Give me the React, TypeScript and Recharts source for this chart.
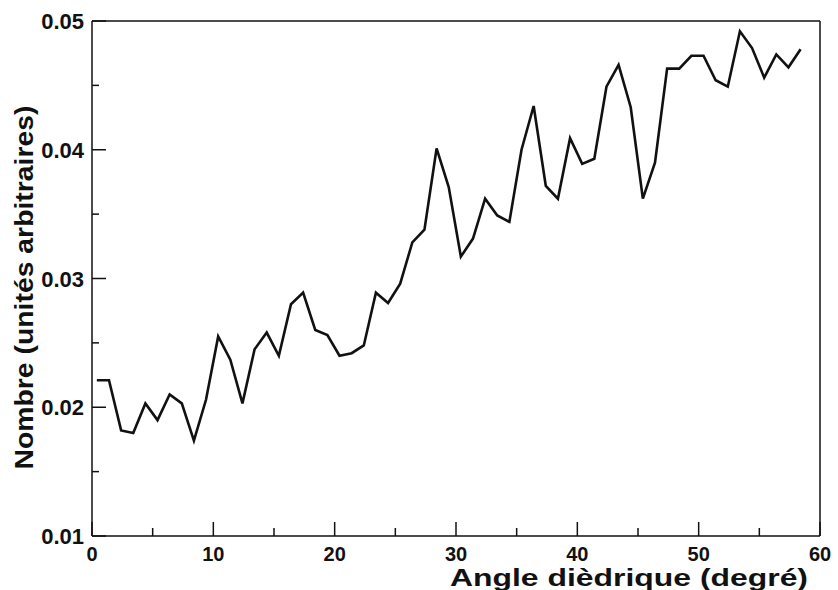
import { LineChart, Line, XAxis, YAxis, Label } from 'recharts';

const angles = [
  0.4, 1.4, 2.4, 3.4, 4.4, 5.4, 6.4, 7.4, 8.4, 9.4,
  10.4, 11.4, 12.4, 13.4, 14.4, 15.4, 16.4, 17.4, 18.4, 19.4,
  20.4, 21.4, 22.4, 23.4, 24.4, 25.4, 26.4, 27.4, 28.4, 29.4,
  30.4, 31.4, 32.4, 33.4, 34.4, 35.4, 36.4, 37.4, 38.4, 39.4,
  40.4, 41.4, 42.4, 43.4, 44.4, 45.4, 46.4, 47.4, 48.4, 49.4,
  50.4, 51.4, 52.4, 53.4, 54.4, 55.4, 56.4, 57.4, 58.4,
];

const nombre = [
  0.0221, 0.0221, 0.0182, 0.018, 0.0203, 0.019, 0.021, 0.0203, 0.0174, 0.0206,
  0.0255, 0.0237, 0.0203, 0.0245, 0.0258, 0.024, 0.028, 0.0289, 0.026, 0.0256,
  0.024, 0.0242, 0.0248, 0.0289, 0.0281, 0.0296, 0.0328, 0.0338, 0.0401, 0.0371,
  0.0317, 0.0331, 0.0362, 0.0349, 0.0344, 0.04, 0.0434, 0.0372, 0.0362, 0.0409,
  0.0389, 0.0393, 0.0449, 0.0466, 0.0433, 0.0362, 0.039, 0.0463, 0.0463, 0.0473,
  0.0473, 0.0454, 0.0449, 0.0492, 0.0479, 0.0456, 0.0474, 0.0464, 0.0478,
];

const xTicks = [0, 5, 10, 15, 20, 25, 30, 35, 40, 45, 50, 55, 60];
const xLabels = [0, 10, 20, 30, 40, 50, 60];
const yTicks = [0.01, 0.015, 0.02, 0.025, 0.03, 0.035, 0.04, 0.045, 0.05];
const yLabels = [0.01, 0.02, 0.03, 0.04, 0.05];

const FONT = '"Liberation Sans", Arial, Helvetica, sans-serif';
const INK = '#111';

const data = angles.map((a, i) => ({ angle: a, nombre: nombre[i] }));

const isMajor = (list: number[], v: number) => list.some(t => Math.abs(t - v) < 1e-9);

// ticks point inward, labels sit outside the frame
const XTick = ({ x, y, payload }: any) => {
  const major = isMajor(xLabels, payload.value);
  return (
    <g>
      <line x1={x} x2={x} y1={y} y2={y - (major ? 14 : 8)} stroke={INK} strokeWidth={1.5} />
      {major && (
        <text x={x} y={y + 25} textAnchor="middle" fontFamily={FONT} fontWeight="bold" fontSize={20} fill={INK}>
          {payload.value}
        </text>
      )}
    </g>
  );
};

const YTick = ({ x, y, payload }: any) => {
  const major = isMajor(yLabels, payload.value);
  return (
    <g>
      <line x1={x} x2={x + (major ? 14 : 7)} y1={y} y2={y} stroke={INK} strokeWidth={1.5} />
      {major && (
        <text x={x - 8} y={y + 8} textAnchor="end" fontFamily={FONT} fontWeight="bold" fontSize={22} fill={INK}>
          {payload.value.toFixed(2)}
        </text>
      )}
    </g>
  );
};

const XTitle = ({ viewBox }: any) => (
  <text
    x={viewBox.x + viewBox.width - 370}
    y={viewBox.y + 50}
    fontFamily={FONT}
    fontWeight="bold"
    fontSize={24}
    fill={INK}
    textLength={358}
    lengthAdjust="spacingAndGlyphs"
  >
    Angle dièdrique (degré)
  </text>
);

const YTitle = ({ viewBox }: any) => {
  const cx = viewBox.x + viewBox.width - 59;
  const cy = viewBox.y + viewBox.height / 2 + 9;
  return (
    <text
      x={cx}
      y={cy}
      transform={`rotate(-90, ${cx}, ${cy})`}
      textAnchor="middle"
      fontFamily={FONT}
      fontWeight="bold"
      fontSize={25}
      fill={INK}
      textLength={364}
      lengthAdjust="spacingAndGlyphs"
    >
      Nombre (unités arbitraires)
    </text>
  );
};

export default function App() {
  return (
    <div style={{ position: 'absolute', left: 0, top: 0, background: '#fff' }}>
      <LineChart width={838} height={590} data={data} margin={{ top: 20, right: 17, bottom: 24, left: 32 }}>
        <XAxis
          dataKey="angle"
          type="number"
          domain={[0, 60]}
          ticks={xTicks}
          interval={0}
          height={30}
          tickSize={0}
          tickMargin={0}
          tickLine={false}
          tick={<XTick />}
          axisLine={{ stroke: INK, strokeWidth: 1.5 }}
          allowDataOverflow
        >
          <Label content={<XTitle />} />
        </XAxis>
        <XAxis
          xAxisId="top"
          orientation="top"
          type="number"
          domain={[0, 60]}
          height={1}
          tick={false}
          tickLine={false}
          axisLine={{ stroke: INK, strokeWidth: 1.5 }}
        />
        <YAxis
          type="number"
          domain={[0.01, 0.05]}
          ticks={yTicks}
          interval={0}
          width={60}
          tickSize={0}
          tickMargin={0}
          tickLine={false}
          tick={<YTick />}
          axisLine={{ stroke: INK, strokeWidth: 1.5 }}
          allowDataOverflow
        >
          <Label content={<YTitle />} />
        </YAxis>
        <YAxis
          yAxisId="right"
          orientation="right"
          type="number"
          domain={[0.01, 0.05]}
          width={1}
          tick={false}
          tickLine={false}
          axisLine={{ stroke: INK, strokeWidth: 1.5 }}
        />
        <Line
          dataKey="nombre"
          type="linear"
          stroke={INK}
          strokeWidth={2.6}
          strokeLinejoin="miter"
          dot={false}
          activeDot={false}
          isAnimationActive={false}
        />
      </LineChart>
    </div>
  );
}
